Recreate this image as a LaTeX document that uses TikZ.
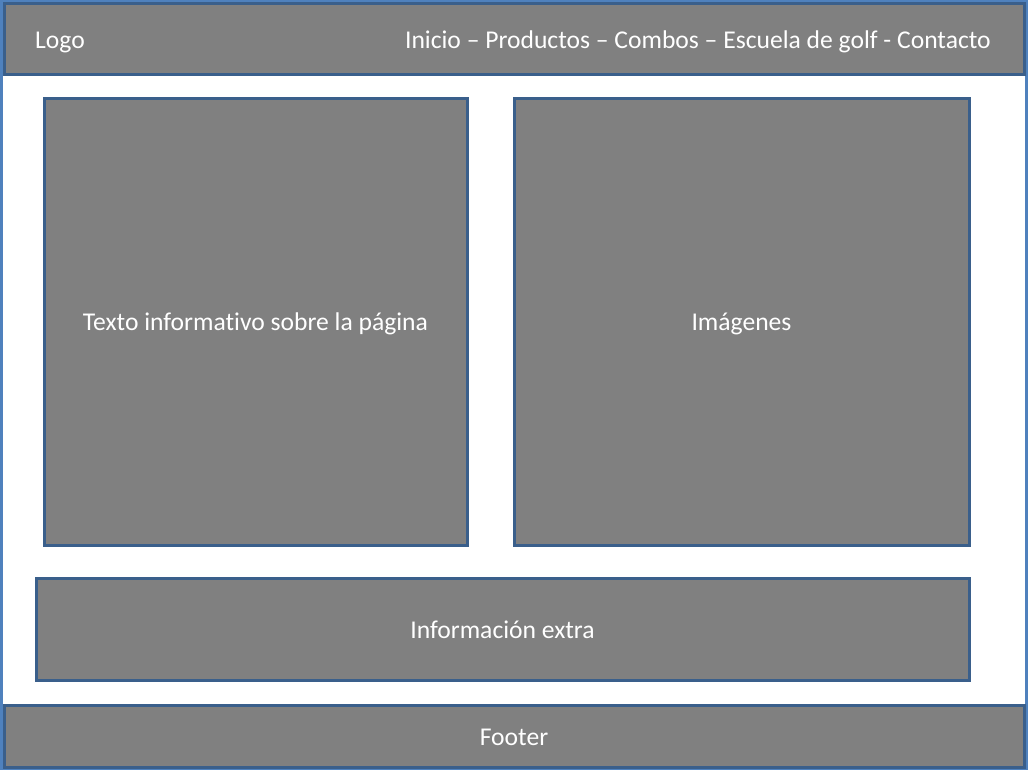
\documentclass[tikz,border=0pt]{standalone}
\usepackage{fontspec}
\setmainfont{Carlito}[Ligatures={NoCommon}]
\definecolor{boxfill}{HTML}{808080}
\definecolor{boxline}{HTML}{3A5F8B}
\definecolor{frameline}{HTML}{4F81BD}
\tikzset{
  panel/.style={draw=boxline, fill=boxfill, line width=3pt},
  lbl/.style={text=white, font=\fontsize{25.6}{30}\selectfont, inner sep=0pt},
}
\begin{document}
\begin{tikzpicture}[x=1pt,y=-1pt]
\useasboundingbox (0,0) rectangle (1028,770);
\fill[white] (0,0) rectangle (1028,770);
\draw[frameline, line width=3pt] (1.5,1.5) rectangle (1026.5,768.5);
\draw[panel] (4,3.5) rectangle (1024,75);
\node[lbl, anchor=base west] (logo) at (35,49) {Logo};
\node[lbl, anchor=base east] (menu) at (991,49) {Inicio – Productos – Combos – Escuela de golf - Contacto};
\draw[panel] (44,99) rectangle (467,545);
\node[lbl] (texto) at (255.5,323.5) {Texto informativo sobre la página};
\draw[panel] (514,99) rectangle (969,545);
\node[lbl] (img) at (741.5,323.5) {Imágenes};
\draw[panel] (36,578) rectangle (969,680);
\node[lbl] (extra) at (502.5,629.5) {Información extra};
\draw[panel] (4,705) rectangle (1024,767);
\node[lbl] (footer) at (514,737.5) {Footer};
\end{tikzpicture}
\end{document}
